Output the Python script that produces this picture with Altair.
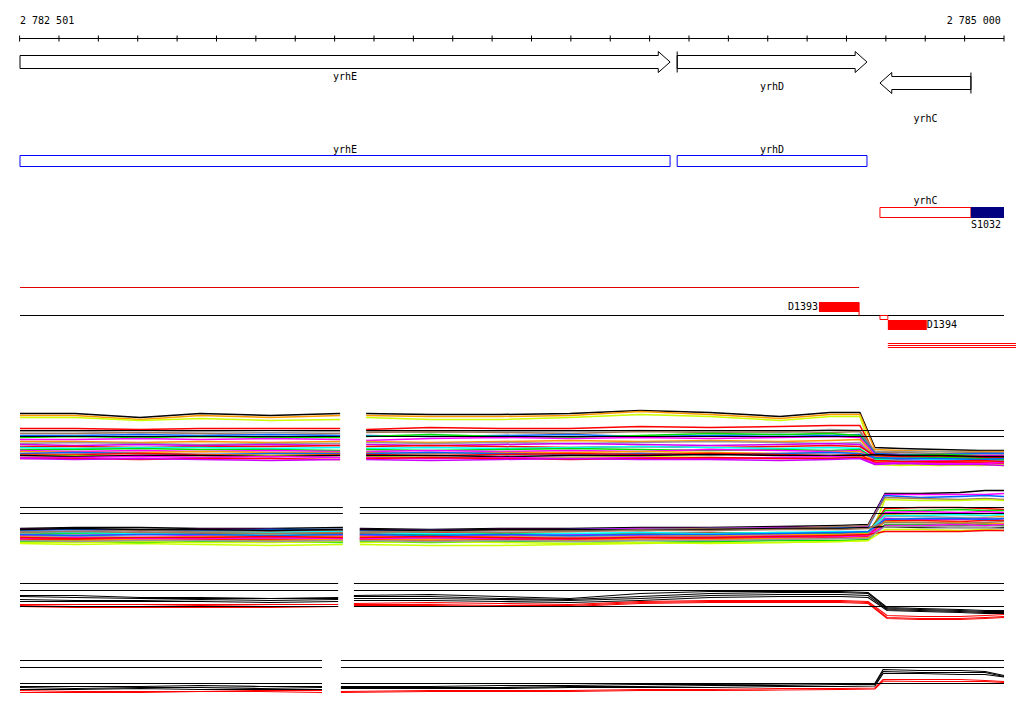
import altair as alt
import pandas as pd

# ---------------- data ----------------
RULER_START = 2782501
RULER_END = 2785000
TICK_STEP = 100
RULER_LABELS = ["2 782 501", "2 785 000"]

GENE_NAMES = ["yrhE", "yrhD", "yrhC"]
GENE_STARTS = [2782501, 2784170, 2784685]
GENE_ENDS = [2784152, 2784652, 2784916]
GENE_STRANDS = ["+", "+", "-"]
GENE_COMPLETE = [False, True, True]

CDS_NAMES = ["yrhE", "yrhD"]
CDS_STARTS = [2782501, 2784170]
CDS_ENDS = [2784152, 2784652]

UTR_NAME = "yrhC"
UTR_SPAN = [2784685, 2784916]
SITE_NAME = "S1032"
SITE_SPAN = [2784916, 2785000]

RED_TRACK_SPAN = [2782501, 2784632]
BLACK_TRACK_SPAN = [2782501, 2785000]
D1393_SPAN = [2784530, 2784632]
D1394_SPAN = [2784705, 2784804]
SMALL_BOX_SPAN = [2784685, 2784705]
TAIL_SPAN = [2784705, 2785051]

RED, BLUE, GREEN, MAGENTA = "#FF0000", "#0066FF", "#00DD00", "#FF00FF"
GRAY, ORANGE, YG, CYAN = "#999999", "#FF9900", "#CCFF00", "#00FFFF"
PURPLE, TAUPE, BLACK = "#CC00FF", "#A0785A", "#000000"

# probe positions (left block / right block)
A_POS = [2782501, 2782641, 2782806, 2782958, 2783136, 2783314,
         2783380, 2783542, 2783720, 2783898, 2784076, 2784253, 2784431, 2784558, 2784634,
         2784672, 2784736, 2784837, 2784939, 2785000]
B_POS = [2782501, 2782641, 2782806, 2782958, 2783136, 2783321,
         2783364, 2783542, 2783720, 2783898, 2784076, 2784253, 2784431, 2784584, 2784655,
         2784698, 2784787, 2784888, 2784952, 2785000]
C_POS = [2782501, 2782641, 2782806, 2782958, 2783136, 2783309,
         2783349, 2783542, 2783720, 2783898, 2784076, 2784253, 2784431, 2784584, 2784655,
         2784703, 2784787, 2784888, 2784952, 2785000]
D_POS = [2782501, 2782641, 2782806, 2782958, 2783111, 2783268,
         2783316, 2783542, 2783720, 2783898, 2784076, 2784253, 2784431, 2784584, 2784672,
         2784693, 2784787, 2784888, 2784952, 2785000]

A_COLORS = [BLACK, ORANGE, YG, RED, GRAY, TAUPE, BLUE, GREEN, MAGENTA, ORANGE, GRAY, PURPLE,
            RED, CYAN, GREEN, MAGENTA, ORANGE, BLUE, RED, YG, BLACK, MAGENTA, RED, PURPLE]
A_VALUES = [
    [13.4, 13.4, 12.6, 13.4, 13.0, 13.4, 13.4, 13.2, 13.2, 13.4, 14.0, 13.6, 12.8, 13.6, 13.6, 6.6, 6.4, 6.2, 6.0, 6.0],
    [13.0, 13.0, 12.2, 13.0, 12.6, 13.0, 13.0, 12.8, 12.8, 13.0, 13.8, 13.2, 12.4, 13.2, 13.2, 6.2, 6.0, 5.8, 5.8, 5.8],
    [12.6, 12.6, 12.0, 12.4, 12.0, 12.2, 12.6, 12.2, 12.2, 12.6, 13.2, 12.8, 12.0, 12.8, 12.8, 4.0, 3.2, 3.0, 3.2, 3.0],
    [10.4, 10.4, 10.2, 10.4, 10.4, 10.4, 10.2, 10.6, 10.4, 10.4, 10.8, 10.6, 10.8, 11.0, 11.0, 5.4, 5.2, 5.0, 5.0, 5.0],
    [9.8, 9.8, 9.6, 9.8, 9.6, 9.8, 9.8, 9.6, 9.8, 9.8, 10.0, 9.8, 9.6, 10.2, 10.0, 5.8, 5.8, 5.8, 5.6, 5.6],
    [9.4, 9.4, 9.6, 9.4, 9.2, 9.4, 9.6, 9.8, 9.6, 9.4, 9.8, 9.6, 9.8, 9.6, 9.8, 5.6, 5.6, 5.4, 5.6, 5.4],
    [9.0, 9.0, 9.2, 9.0, 9.2, 9.0, 9.0, 8.8, 9.0, 9.2, 8.8, 9.0, 9.2, 9.0, 9.2, 5.4, 5.2, 5.2, 5.4, 5.4],
    [8.6, 8.8, 8.6, 8.8, 8.6, 8.6, 8.8, 9.2, 8.8, 8.6, 9.0, 9.4, 9.2, 9.4, 9.0, 5.0, 5.0, 5.2, 5.0, 5.0],
    [8.2, 8.2, 8.4, 8.2, 8.4, 8.2, 8.0, 8.4, 8.6, 8.4, 8.6, 8.4, 8.6, 8.8, 8.6, 5.2, 5.0, 4.8, 5.0, 5.0],
    [7.8, 7.8, 7.6, 7.8, 7.6, 7.8, 7.8, 7.6, 7.8, 8.0, 7.8, 8.0, 7.8, 8.0, 8.2, 4.8, 4.8, 5.0, 4.8, 4.6],
    [7.4, 7.6, 7.4, 7.2, 7.4, 7.4, 7.6, 7.4, 7.6, 7.4, 7.6, 7.8, 7.6, 7.4, 7.6, 4.6, 4.6, 4.4, 4.6, 4.8],
    [7.2, 7.0, 7.2, 7.0, 7.2, 7.0, 7.2, 7.0, 7.2, 7.4, 7.2, 7.0, 7.2, 7.4, 7.2, 4.4, 4.2, 4.4, 4.2, 4.2],
    [6.8, 6.8, 6.6, 6.8, 6.8, 7.0, 6.8, 7.0, 6.8, 6.6, 6.8, 6.6, 6.8, 7.0, 6.8, 5.0, 4.8, 4.8, 4.6, 4.6],
    [6.6, 6.4, 6.6, 6.6, 6.4, 6.6, 6.4, 6.6, 6.4, 6.6, 6.8, 6.6, 6.4, 6.6, 6.4, 4.2, 4.0, 4.2, 4.2, 4.0],
    [6.2, 6.2, 6.4, 6.2, 6.2, 6.0, 6.2, 6.0, 6.2, 6.4, 6.2, 6.0, 6.2, 6.0, 6.2, 4.4, 4.4, 4.6, 4.4, 4.2],
    [6.0, 5.8, 6.0, 5.8, 6.0, 5.8, 5.8, 6.0, 5.8, 6.0, 5.8, 6.2, 6.0, 5.8, 6.0, 4.0, 3.8, 4.0, 3.8, 3.8],
    [5.8, 5.6, 5.6, 5.8, 5.6, 5.6, 5.6, 5.4, 5.6, 5.6, 5.8, 5.6, 5.4, 5.6, 5.8, 3.8, 3.8, 3.6, 3.8, 3.6],
    [5.4, 5.6, 5.4, 5.2, 5.4, 5.4, 5.4, 5.6, 5.4, 5.2, 5.4, 5.2, 5.4, 5.6, 5.4, 4.6, 4.4, 4.4, 4.2, 4.4],
    [5.2, 5.2, 5.4, 5.2, 5.0, 5.2, 5.2, 5.0, 5.2, 5.4, 5.2, 5.4, 5.2, 5.0, 5.2, 3.6, 3.4, 3.6, 3.6, 3.4],
    [5.0, 5.0, 4.8, 5.0, 5.0, 5.0, 4.8, 4.6, 4.4, 4.6, 4.8, 4.6, 4.4, 4.6, 4.8, 3.2, 3.0, 3.2, 3.0, 3.2],
    [5.0, 4.8, 5.0, 5.0, 4.8, 5.0, 5.0, 5.0, 4.8, 5.0, 5.0, 5.2, 5.0, 5.0, 5.0, 5.2, 5.0, 5.0, 4.8, 4.8],
    [4.6, 4.6, 4.8, 4.6, 4.8, 4.6, 4.6, 4.4, 4.6, 4.4, 4.6, 4.4, 4.6, 4.8, 4.6, 3.4, 3.6, 3.4, 3.4, 3.6],
    [4.4, 4.4, 4.2, 4.4, 4.4, 4.2, 4.4, 4.6, 4.4, 4.2, 4.4, 4.6, 4.4, 4.4, 4.6, 4.0, 3.8, 3.8, 4.0, 3.8],
    [4.4, 4.2, 4.4, 4.2, 4.0, 4.2, 4.2, 4.0, 4.2, 4.4, 4.2, 4.2, 4.0, 4.2, 4.4, 3.2, 3.4, 3.2, 3.2, 3.0],
]
A_REFS = [10.0, 8.8]

B_COLORS = [BLACK, MAGENTA, BLUE, TAUPE, YG, RED, GREEN, MAGENTA, ORANGE, GRAY, CYAN,
            PURPLE, RED, ORANGE, BLUE, GREEN, MAGENTA, BLACK, YG, RED, TAUPE, GRAY]
B_VALUES = [
    [5.4, 5.6, 5.6, 5.4, 5.4, 5.6, 5.4, 5.2, 5.4, 5.4, 5.6, 5.6, 5.8, 6.0, 6.2, 12.4, 12.4, 12.6, 13.0, 13.0],
    [5.2, 5.2, 5.0, 5.2, 5.2, 5.0, 5.2, 5.0, 5.2, 5.2, 5.4, 5.4, 5.6, 5.6, 5.8, 12.2, 12.2, 12.2, 12.2, 12.4],
    [5.0, 5.2, 5.0, 5.0, 5.2, 5.2, 5.0, 5.0, 5.0, 5.2, 5.2, 5.4, 5.4, 5.6, 5.6, 12.0, 11.6, 11.8, 12.0, 11.8],
    [4.8, 4.8, 5.0, 4.8, 4.8, 5.0, 4.8, 4.8, 5.0, 5.0, 5.2, 5.4, 5.4, 5.8, 6.0, 11.6, 11.4, 11.2, 11.4, 11.2],
    [2.4, 2.2, 2.4, 2.2, 2.0, 2.2, 2.2, 2.0, 2.0, 2.2, 2.4, 2.6, 2.6, 2.8, 3.0, 11.2, 11.0, 11.0, 11.2, 11.0],
    [4.6, 4.4, 4.6, 4.4, 4.6, 4.4, 4.4, 4.6, 4.4, 4.2, 4.4, 4.6, 4.4, 4.6, 4.6, 9.4, 9.6, 9.6, 9.4, 9.2],
    [4.2, 4.4, 4.4, 4.2, 4.4, 4.2, 4.2, 4.2, 4.4, 4.4, 4.2, 4.4, 4.6, 4.4, 4.6, 9.0, 9.0, 9.2, 9.0, 9.0],
    [4.0, 4.0, 4.2, 4.0, 3.8, 4.0, 4.0, 3.8, 4.0, 4.2, 4.0, 4.2, 4.0, 4.2, 4.4, 8.6, 8.8, 8.6, 8.8, 8.6],
    [3.8, 3.8, 3.6, 3.8, 4.0, 3.8, 3.8, 3.6, 3.8, 3.6, 3.8, 4.0, 4.2, 4.2, 4.4, 8.2, 8.4, 8.2, 8.0, 7.8],
    [3.6, 3.8, 3.6, 3.6, 3.4, 3.6, 3.6, 3.4, 3.6, 3.8, 3.6, 3.8, 3.8, 4.0, 4.2, 7.8, 7.8, 7.6, 7.6, 7.4],
    [4.6, 4.6, 4.4, 4.6, 4.6, 4.8, 4.6, 4.4, 4.2, 4.4, 4.6, 4.4, 4.6, 4.8, 4.8, 8.0, 8.0, 8.2, 8.0, 8.2],
    [3.4, 3.2, 3.4, 3.4, 3.2, 3.4, 3.4, 3.2, 3.4, 3.2, 3.2, 3.4, 3.6, 3.8, 4.0, 7.4, 7.2, 7.2, 7.4, 7.0],
    [3.2, 3.2, 3.0, 3.2, 3.2, 3.0, 3.2, 3.0, 3.2, 3.4, 3.2, 3.4, 3.4, 3.6, 3.8, 7.0, 7.0, 6.8, 7.0, 7.0],
    [3.0, 3.0, 3.2, 3.0, 3.0, 3.2, 3.0, 3.2, 3.0, 3.0, 3.2, 3.2, 3.4, 3.4, 3.6, 6.8, 6.6, 6.6, 6.4, 6.4],
    [4.2, 4.0, 4.2, 4.2, 4.0, 4.2, 4.2, 4.0, 4.2, 4.0, 4.2, 4.2, 4.4, 4.6, 4.8, 7.2, 7.4, 7.4, 7.2, 7.4],
    [2.8, 2.8, 2.6, 2.8, 2.8, 2.6, 2.8, 2.6, 2.8, 2.8, 2.6, 2.8, 3.0, 3.0, 3.2, 6.2, 6.2, 6.0, 6.2, 6.0],
    [3.4, 3.6, 3.4, 3.4, 3.6, 3.4, 3.4, 3.6, 3.4, 3.4, 3.6, 3.6, 3.8, 3.8, 4.0, 6.0, 6.0, 6.2, 6.0, 6.2],
    [5.2, 5.4, 5.2, 5.2, 5.0, 5.2, 5.2, 5.0, 5.2, 5.2, 5.0, 5.2, 5.4, 5.4, 5.6, 5.8, 5.6, 5.6, 5.6, 5.6],
    [2.6, 2.6, 2.8, 2.6, 2.6, 2.8, 2.6, 2.8, 2.6, 2.4, 2.6, 2.4, 2.6, 2.8, 3.0, 5.2, 5.2, 5.0, 5.2, 5.0],
    [3.6, 3.4, 3.6, 3.6, 3.8, 3.6, 3.6, 3.8, 3.6, 3.4, 3.6, 3.6, 3.8, 4.0, 4.2, 4.8, 4.8, 4.8, 5.0, 5.0],
    [4.6, 4.8, 4.6, 4.6, 4.4, 4.6, 4.6, 4.8, 4.6, 4.8, 5.0, 5.0, 5.2, 5.2, 5.4, 6.6, 6.6, 6.4, 6.6, 6.8],
    [3.0, 2.8, 3.0, 3.0, 2.8, 3.0, 3.0, 2.8, 3.0, 2.8, 3.0, 3.0, 3.2, 3.4, 3.4, 5.8, 5.8, 5.6, 5.6, 5.4],
]
B_REFS = [9.6, 8.4]

C_COLORS = [BLACK, BLACK, BLACK, BLACK, RED, RED, RED]
C_VALUES = [
    [6.0, 6.0, 5.6, 5.6, 5.4, 5.4, 6.0, 6.2, 5.8, 5.4, 6.4, 6.8, 6.8, 6.8, 6.6, 3.6, 3.4, 3.2, 3.0, 3.0],
    [5.8, 5.6, 5.4, 5.4, 5.4, 5.6, 5.8, 5.8, 5.4, 5.2, 5.8, 6.4, 6.6, 6.6, 6.4, 3.4, 3.2, 3.0, 2.8, 2.8],
    [5.2, 5.0, 5.0, 5.2, 5.0, 5.2, 5.4, 5.4, 5.2, 5.0, 5.4, 6.0, 6.2, 6.2, 6.0, 3.2, 3.0, 2.8, 2.6, 2.6],
    [4.8, 4.8, 4.8, 4.8, 4.6, 4.8, 5.0, 5.0, 4.8, 4.6, 5.0, 5.6, 5.8, 5.8, 5.6, 3.0, 2.8, 2.6, 2.4, 2.4],
    [4.2, 4.2, 4.2, 4.2, 4.2, 4.2, 4.4, 4.6, 4.4, 4.2, 4.8, 5.0, 5.0, 5.0, 4.8, 2.0, 1.8, 1.8, 2.0, 2.2],
    [4.0, 3.8, 3.8, 4.0, 3.8, 3.8, 4.2, 4.2, 4.0, 4.0, 4.6, 4.8, 4.8, 4.8, 4.6, 1.6, 1.4, 1.4, 1.6, 1.8],
    [3.8, 3.6, 3.6, 3.6, 3.6, 3.8, 4.0, 4.0, 3.8, 3.8, 4.4, 4.6, 4.6, 4.6, 4.4, 1.4, 1.2, 1.2, 1.4, 1.6],
]
C_REFS = [8.4, 7.0, 3.8]

D_COLORS = [BLACK, BLACK, BLACK, RED, RED]
D_VALUES = [
    [2.8, 2.8, 2.8, 3.0, 2.8, 2.8, 2.8, 2.8, 3.0, 3.0, 3.2, 3.2, 3.3, 3.4, 3.4, 6.2, 6.0, 6.0, 5.8, 5.0],
    [2.6, 2.4, 2.6, 2.6, 2.4, 2.6, 2.6, 2.6, 2.6, 2.8, 2.8, 3.0, 3.0, 3.2, 3.2, 5.8, 5.6, 5.6, 5.6, 4.8],
    [2.2, 2.2, 2.4, 2.2, 2.2, 2.2, 2.4, 2.4, 2.4, 2.6, 2.6, 2.6, 2.8, 2.8, 2.9, 5.4, 5.4, 5.2, 5.2, 4.7],
    [2.0, 1.8, 1.8, 1.8, 2.0, 2.0, 1.8, 2.0, 2.0, 2.0, 2.2, 2.2, 2.4, 2.4, 2.5, 4.2, 4.2, 4.2, 4.0, 3.8],
    [1.6, 1.6, 1.6, 1.8, 1.8, 1.6, 1.6, 1.8, 1.8, 1.8, 2.0, 2.0, 2.1, 2.2, 2.3, 3.9, 3.8, 3.8, 3.8, 3.6],
]
D_REFS = [8.0, 6.6, 3.4]

# ---------------- layout (screen rows) ----------------
LABEL_Y = 20
RULER_Y = 38
TICK_Y = (35, 41)
ARROW_Y = {"yrhE": 61.5, "yrhD": 61.5, "yrhC": 82.5}
ARROW_LABEL_Y = {"yrhE": 76, "yrhD": 86, "yrhC": 118}
BODY_H, HEAD_H, HEAD_LEN = 6.5, 10.5, 30
CDS_ROW = (155, 166)
CDS_LABEL_Y = 149
UTR_ROW = (207, 217)
UTR_LABEL_Y = 200
SITE_LABEL_Y = 224
RED_TRACK_Y = 287
BLACK_TRACK_Y = 315
D1393_ROW = (302, 311)
D1394_ROW = (320, 329)
SMALL_BOX_ROW = (315, 319)
TAIL_YS = [343, 345, 347]
PANELS = {
    "A": dict(pos=A_POS, colors=A_COLORS, values=A_VALUES, refs=A_REFS, base=480, w=1.5),
    "B": dict(pos=B_POS, colors=B_COLORS, values=B_VALUES, refs=B_REFS, base=555, w=1.5),
    "C": dict(pos=C_POS, colors=C_COLORS, values=C_VALUES, refs=C_REFS, base=625, w=1.1),
    "D": dict(pos=D_POS, colors=D_COLORS, values=D_VALUES, refs=D_REFS, base=700, w=1.2),
}
PX_PER_UNIT = 5
N_LEFT = 6

# scale: ruler spans screen x 20..1004, chart origin at screen 8 (half-pixel offset for crisp rules)
BP_PER_PX = (RULER_END - RULER_START) / 984.0
X0 = RULER_START - 12 * BP_PER_PX
X1 = X0 + 1008 * BP_PER_PX
XS = alt.Scale(domain=[X0, X1], zero=False, nice=False)
YS = alt.Scale(domain=[7.5, 697.5], reverse=True, zero=False, nice=False)
FONT = "DejaVu Sans Mono"


def X(f="x"):
    return alt.X(f"{f}:Q", scale=XS, axis=None)


def Y(f="y"):
    return alt.Y(f"{f}:Q", scale=YS, axis=None)


def hrule(x, x2, y, color):
    return (alt.Chart(pd.DataFrame({"x": x, "x2": x2, "y": y}))
            .mark_rule(color=color, strokeWidth=1)
            .encode(x=X(), x2="x2:Q", y=Y()))


layers = []

# ruler
layers.append(hrule([RULER_START], [RULER_END], [RULER_Y], "black"))
ticks = list(range((RULER_START // TICK_STEP) * TICK_STEP, RULER_END + 1, TICK_STEP))
layers.append(alt.Chart(pd.DataFrame({"x": ticks, "y": TICK_Y[0], "y2": TICK_Y[1]}))
              .mark_rule(color="black", strokeWidth=1)
              .encode(x=X(), y=Y(), y2="y2:Q"))

# texts
left_txt = pd.DataFrame({"x": [RULER_START, SITE_SPAN[0], D1394_SPAN[1]],
                         "y": [LABEL_Y, SITE_LABEL_Y, (D1394_ROW[0] + D1394_ROW[1]) / 2],
                         "t": [RULER_LABELS[0], SITE_NAME, "D1394"]})
right_txt = pd.DataFrame({"x": [RULER_END - 8, D1393_SPAN[0] - 2],
                          "y": [LABEL_Y, (D1393_ROW[0] + D1393_ROW[1]) / 2],
                          "t": [RULER_LABELS[1], "D1393"]})
center_rows = []
for n, s, e in zip(GENE_NAMES, GENE_STARTS, GENE_ENDS):
    center_rows.append(dict(x=(s + e) / 2, y=ARROW_LABEL_Y[n], t=n))
for n, s, e in zip(CDS_NAMES, CDS_STARTS, CDS_ENDS):
    center_rows.append(dict(x=(s + e) / 2, y=CDS_LABEL_Y, t=n))
center_rows.append(dict(x=sum(UTR_SPAN) / 2, y=UTR_LABEL_Y, t=UTR_NAME))
center_txt = pd.DataFrame(center_rows)
for df, al in [(left_txt, "left"), (right_txt, "right"), (center_txt, "center")]:
    layers.append(alt.Chart(df).mark_text(align=al, baseline="middle", font=FONT, fontSize=10, color="black")
                  .encode(x=X(), y=Y(), text="t:N"))

# gene arrows
arr = []
for n, s, e, st, full in zip(GENE_NAMES, GENE_STARTS, GENE_ENDS, GENE_STRANDS, GENE_COMPLETE):
    c = ARROW_Y[n]
    if st == "+":
        pts = [(s, c - BODY_H), (e - HEAD_LEN, c - BODY_H), (e - HEAD_LEN, c - HEAD_H), (e, c),
               (e - HEAD_LEN, c + HEAD_H), (e - HEAD_LEN, c + BODY_H), (s, c + BODY_H), (s, c - BODY_H)]
        bar = s
    else:
        pts = [(e, c - BODY_H), (s + HEAD_LEN, c - BODY_H), (s + HEAD_LEN, c - HEAD_H), (s, c),
               (s + HEAD_LEN, c + HEAD_H), (s + HEAD_LEN, c + BODY_H), (e, c + BODY_H), (e, c - BODY_H)]
        bar = e
    for k, (px, py) in enumerate(pts):
        arr.append(dict(path=n, o=k, x=px, y=py))
    if full:
        arr.append(dict(path=n + "_bar", o=0, x=bar, y=c - HEAD_H))
        arr.append(dict(path=n + "_bar", o=1, x=bar, y=c + HEAD_H))
layers.append(alt.Chart(pd.DataFrame(arr)).mark_line(color="black", strokeWidth=1)
              .encode(x=X(), y=Y(), detail="path:N", order="o:Q"))

# CDS blue boxes
layers.append(alt.Chart(pd.DataFrame({"x": CDS_STARTS, "x2": CDS_ENDS, "y": CDS_ROW[0], "y2": CDS_ROW[1]}))
              .mark_rect(fill="white", stroke="#0000FF", strokeWidth=1)
              .encode(x=X(), x2="x2:Q", y=Y(), y2="y2:Q"))
# UTR red box + site
layers.append(alt.Chart(pd.DataFrame({"x": [UTR_SPAN[0]], "x2": [UTR_SPAN[1]], "y": [UTR_ROW[0]], "y2": [UTR_ROW[1]]}))
              .mark_rect(fill="white", stroke="#FF0000", strokeWidth=1)
              .encode(x=X(), x2="x2:Q", y=Y(), y2="y2:Q"))
layers.append(alt.Chart(pd.DataFrame({"x": [SITE_SPAN[0]], "x2": [SITE_SPAN[1]], "y": [UTR_ROW[0] - 0.5], "y2": [UTR_ROW[1] + 0.5]}))
              .mark_rect(fill="#000080")
              .encode(x=X(), x2="x2:Q", y=Y(), y2="y2:Q"))

# track lines
layers.append(hrule([RED_TRACK_SPAN[0]], [RED_TRACK_SPAN[1]], [RED_TRACK_Y], "#E00000"))
layers.append(hrule([BLACK_TRACK_SPAN[0]], [BLACK_TRACK_SPAN[1]], [BLACK_TRACK_Y], "#000000"))
layers.append(hrule([TAIL_SPAN[0]] * 3, [TAIL_SPAN[1]] * 3, TAIL_YS, "#FF0000"))
layers.append(alt.Chart(pd.DataFrame({"x": [D1393_SPAN[1]], "y": [D1393_ROW[0]], "y2": [BLACK_TRACK_Y]}))
              .mark_rule(color="#FF0000", strokeWidth=1)
              .encode(x=X(), y=Y(), y2="y2:Q"))
layers.append(alt.Chart(pd.DataFrame({"x": [D1393_SPAN[0], D1394_SPAN[0]], "x2": [D1393_SPAN[1], D1394_SPAN[1]],
                                      "y": [D1393_ROW[0] - 0.5, D1394_ROW[0] - 0.5],
                                      "y2": [D1393_ROW[1] + 0.5, D1394_ROW[1] + 0.5]}))
              .mark_rect(fill="#FF0000")
              .encode(x=X(), x2="x2:Q", y=Y(), y2="y2:Q"))
layers.append(alt.Chart(pd.DataFrame({"x": [SMALL_BOX_SPAN[0]], "x2": [SMALL_BOX_SPAN[1]],
                                      "y": [SMALL_BOX_ROW[0]], "y2": [SMALL_BOX_ROW[1]]}))
              .mark_rect(fill="white", stroke="#FF0000", strokeWidth=1)
              .encode(x=X(), x2="x2:Q", y=Y(), y2="y2:Q"))

# expression panels
rows, refs = [], []
for pname, p in PANELS.items():
    pos = p["pos"]
    for i, (col, vals) in enumerate(zip(p["colors"], p["values"])):
        for j, (g, v) in enumerate(zip(pos, vals)):
            rows.append(dict(key=f"{pname}{i:02d}_{0 if j < N_LEFT else 1}", idx=j, x=g,
                             y=p["base"] - v * PX_PER_UNIT, c=col, w=p["w"]))
    for v in p["refs"]:
        yv = p["base"] - v * PX_PER_UNIT
        refs.append(dict(x=pos[0], x2=pos[N_LEFT - 1], y=yv))
        refs.append(dict(x=pos[N_LEFT], x2=pos[-1], y=yv))
layers.append(alt.Chart(pd.DataFrame(rows)).mark_line()
              .encode(x=X(), y=Y(), detail="key:N", order="idx:Q",
                      color=alt.Color("c:N", scale=None),
                      strokeWidth=alt.StrokeWidth("w:Q", scale=None)))
refs_df = pd.DataFrame(refs)
layers.append(hrule(refs_df["x"].tolist(), refs_df["x2"].tolist(), refs_df["y"].tolist(), "black"))

chart = alt.layer(*layers).properties(
    width=1008, height=690, padding=0, background="white",
    autosize=alt.AutoSizeParams(type="none")
).configure_view(stroke=None)

chart.save("out.html", embed_options={"renderer": "svg", "actions": False})
